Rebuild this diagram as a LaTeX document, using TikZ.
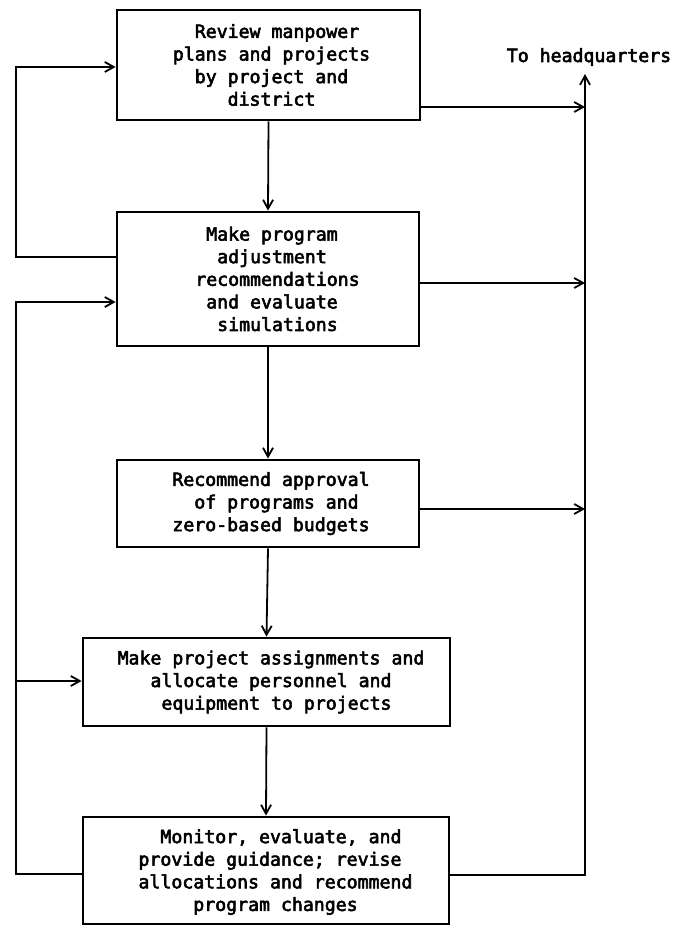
\documentclass[tikz,border=0pt]{standalone}
\usepackage{fontspec}
\newfontfamily\typewr[BoldFont={DejaVu Sans Mono}, BoldFeatures={FakeBold=3}]{DejaVu Sans Mono}
\usetikzlibrary{arrows.meta}

\tikzset{
  stepbox/.style={draw=black, line width=2.8pt, fill=white,
    inner sep=0pt},
  steptext/.style={align=center, inner sep=0pt,
    font=\typewr\bfseries\fontsize{18.2}{22.6}\selectfont},
  flow/.style={draw=black, line width=1.8pt},
  arr/.style={flow, -{Straight Barb[length=9pt,width=10pt,line width=1.8pt]}},
  lbl/.style={font=\typewr\bfseries\fontsize{18.2}{22.6}\selectfont, inner sep=0pt}
}
\newcommand{\indt}[1]{\hspace*{#1pt}}

\begin{document}
\begin{tikzpicture}[x=1pt,y=-1pt]
  % page frame
  \fill[white] (0,0) rectangle (686,925);
  \useasboundingbox (0,0) rectangle (686,925);

  % process step frames
  \node[stepbox, minimum width=303pt, minimum height=110pt] (b1) at (268.5,65) {};
  \node[stepbox, minimum width=302pt, minimum height=134pt] (b2) at (268,279) {};
  \node[stepbox, minimum width=302pt, minimum height=87pt] (b3) at (268,503.5) {};
  \node[stepbox, minimum width=367pt, minimum height=88pt] (b4) at (266.5,682) {};
  \node[stepbox, minimum width=366pt, minimum height=107pt] (b5) at (266,870.5) {};

  % typed step texts
  \node[steptext] (t1) at ([xshift=3pt]b1.center)
    {\indt{11}Review manpower\\plans and projects\\by project and\\district};
  \node[steptext] (t2) at ([xshift=4pt]b2.center)
    {Make program\\adjustment\\\indt{11}recommendations\\and evaluate\\\indt{11}simulations};
  \node[steptext] (t3) at ([xshift=3pt]b3.center)
    {Recommend approval\\\indt{11}of programs and\\zero-based budgets};
  \node[steptext] (t4) at ([xshift=4.5pt]b4.center)
    {Make project assignments and\\allocate personnel and\\\indt{11}equipment to projects};
  \node[steptext] (t5) at ([xshift=4pt,yshift=-1.5pt]b5.center)
    {\indt{22}Monitor, evaluate, and\\provide guidance; revise\\\indt{11}allocations and recommend\\\indt{11}program changes};

  \node[lbl] (hq) at (589,57) {To headquarters};

  % junction points on the headquarters line
  \coordinate (r1) at (585,107);
  \coordinate (r2) at (585,283);
  \coordinate (r3) at (585,509);
  \coordinate (r5) at (585,875);
  \coordinate (rtop) at (585,74);

  % feedback loop corners
  \coordinate (l1a) at (16,257);
  \coordinate (l1b) at (16,67);
  \coordinate (l2a) at (16,874);
  \coordinate (l2b) at (16,302);
  \coordinate (l2m) at (16,681);

  % main sequence
  \draw[arr] (b1.south) -- (b2.north);
  \draw[arr] (b2.south) -- (b3.north);
  \draw[arr] (b3.south) -- (b4.north);
  \draw[arr] (b4.south) -- (b5.north);

  % reports to headquarters
  \draw[arr] (b1.east |- r1) -- (r1);
  \draw[arr] (b2.east |- r2) -- (r2);
  \draw[arr] (b3.east |- r3) -- (r3);
  \draw[arr] (b5.east |- r5) -- (r5) -- (rtop);

  % feedback loops
  \draw[arr] (b2.west |- l1a) -- (l1a) -- (l1b) -- (b1.west |- l1b);
  \draw[arr] (b5.west |- l2a) -- (l2a) -- (l2b) -- (b2.west |- l2b);
  \draw[arr] (l2m) -- (b4.west |- l2m);
\end{tikzpicture}
\end{document}
